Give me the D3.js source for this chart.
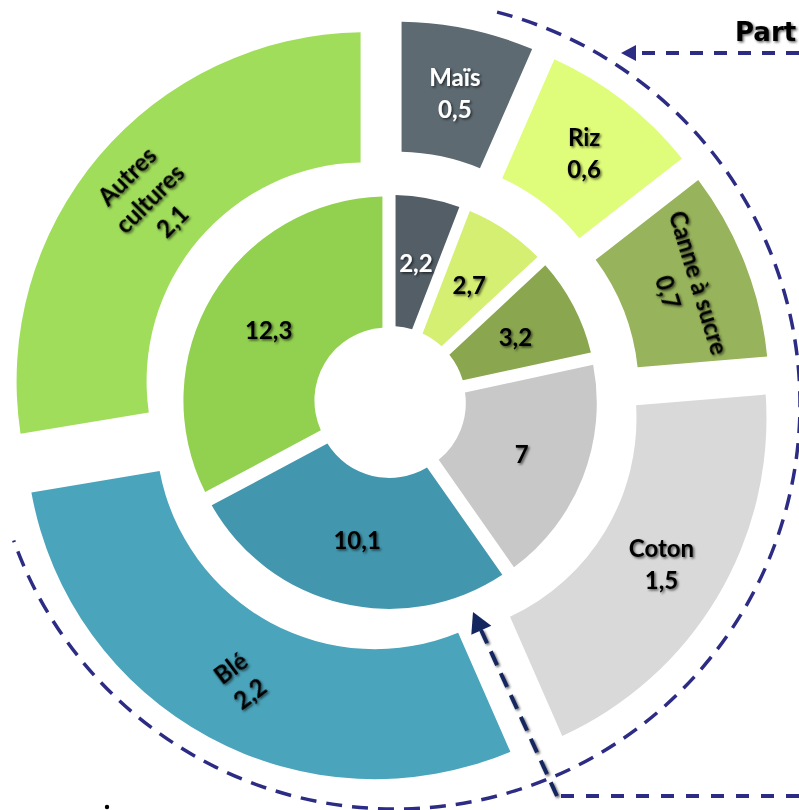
<!DOCTYPE html>
<html>
<head>
<meta charset="utf-8">
<script src="https://cdn.jsdelivr.net/npm/d3@7"></script>
<style>
  body { margin: 0; background: #fff; }
  svg { display: block; }
  .lbl { font-family: Lato, "Open Sans", sans-serif; font-weight: 700; font-size: 24px; }
  .title { font-family: "DejaVu Sans", Verdana, sans-serif; font-weight: 700; font-size: 26px; }
</style>
</head>
<body>
<div class="chart"></div>
<script>
var svgWidth = 799;
var svgHeight = 810;

// crops, clockwise from 12 o'clock
var crops = ["Maïs", "Riz", "Canne à sucre", "Coton", "Blé", "Autres cultures"];
// inner ring values
var innerValues = [2.2, 2.7, 3.2, 7, 10.1, 12.3];
// outer ring values
var outerValues = [0.5, 0.6, 0.7, 1.5, 2.2, 2.1];
// how the crop names break on the outer labels
var outerNameLines = [["Maïs"], ["Riz"], ["Canne à sucre"], ["Coton"], ["Blé"], ["Autres", "cultures"]];

// styles
var innerColors = ["#535e67", "#d4ef72", "#8aa74f", "#c8c8c8", "#4297ae", "#92d050"];
var outerColors = ["#5d6a71", "#e0fc7b", "#97b35b", "#d9d9d9", "#4aa4bc", "#a0dd5b"];
var textColors = ["#fff", "#000", "#000", "#000", "#000", "#000"];
var outerLabelRotate = [0, 0, 73, 0, -37, -45];
var navy = "#2d2c84";
var darkNavy = "#14265f";

var cx = 390, cy = 402;
var lineHeight = 32;

var fmt = function (v) { return String(v).replace(".", ","); };

var svg = d3.select(".chart")
  .append("svg")
  .attr("width", svgWidth)
  .attr("height", svgHeight);

var defs = svg.append("defs");
defs.append("filter")
  .attr("id", "shadow")
  .attr("x", "-30%").attr("y", "-30%").attr("width", "160%").attr("height", "160%")
  .append("feDropShadow")
  .attr("dx", 1.5).attr("dy", 1.5).attr("stdDeviation", 1.2)
  .attr("flood-color", "#000").attr("flood-opacity", 0.6);

var chartGroup = svg.append("g")
  .attr("transform", `translate(${cx}, ${cy})`);

var pie = d3.pie().sort(null).value(d => d);

// draw one ring; explode pushes every slice out along its bisector
function drawRing(values, r0, r1, explode, colors, cls) {
  var arc = d3.arc()
    .innerRadius(r0)
    .outerRadius(r1)
    .padRadius(100)
    .padAngle(0.1);

  var arcs = pie(values);
  arcs.forEach(function (d) {
    var mid = (d.startAngle + d.endAngle) / 2;
    d.dx = explode * Math.sin(mid);
    d.dy = -explode * Math.cos(mid);
    var c = arc.centroid(d);
    d.lx = c[0] + d.dx;
    d.ly = c[1] + d.dy;
  });

  chartGroup.append("g").attr("class", cls)
    .selectAll("path")
    .data(arcs)
    .enter()
    .append("path")
    .attr("d", arc)
    .attr("transform", d => `translate(${d.dx}, ${d.dy})`)
    .attr("fill", (d, i) => colors[i]);

  return arcs;
}

var innerArcs = drawRing(innerValues, 73, 204, 3, innerColors, "inner");
var outerArcs = drawRing(outerValues, 219, 349, 32, outerColors, "outer");

// labels
var labels = chartGroup.append("g").attr("filter", "url(#shadow)");

labels.selectAll("text.inner")
  .data(innerArcs)
  .enter()
  .append("text")
  .attr("class", "lbl inner")
  .attr("x", d => d.lx)
  .attr("y", d => d.ly)
  .attr("text-anchor", "middle")
  .attr("dominant-baseline", "central")
  .attr("fill", (d, i) => textColors[i])
  .text(d => fmt(d.data));

var outerLabel = labels.selectAll("g.outerLabel")
  .data(outerArcs)
  .enter()
  .append("g")
  .attr("class", "outerLabel")
  .attr("transform", (d, i) => `translate(${d.lx}, ${d.ly}) rotate(${outerLabelRotate[i]})`);

outerLabel.each(function (d, i) {
  var lines = outerNameLines[i].concat([fmt(d.data)]);
  var n = lines.length;
  d3.select(this).selectAll("text")
    .data(lines)
    .enter()
    .append("text")
    .attr("class", "lbl")
    .attr("x", 0)
    .attr("y", (t, j) => (j - (n - 1) / 2) * lineHeight)
    .attr("text-anchor", "middle")
    .attr("dominant-baseline", "central")
    .attr("fill", textColors[i])
    .text(t => t);
});

// dashed ring around the outer crops
var deg = Math.PI / 180;
var ring = { x: 395, y: 404, r: 405, from: 14.6, to: 250.3 };
var ringPath = d3.path();
ringPath.arc(ring.x, ring.y, ring.r, (ring.from - 90) * deg, (ring.to - 90) * deg, false);
svg.append("path")
  .attr("d", ringPath.toString())
  .attr("fill", "none")
  .attr("stroke", navy)
  .attr("stroke-width", 3.5)
  .attr("stroke-dasharray", "16 10");

// arrow heads
function arrowHead(tip, from, len, half, color) {
  var vx = from[0] - tip[0], vy = from[1] - tip[1];
  var l = Math.sqrt(vx * vx + vy * vy);
  vx /= l; vy /= l;
  var bx = tip[0] + vx * len, by = tip[1] + vy * len;
  var pts = [tip, [bx - vy * half, by + vx * half], [bx + vy * half, by - vx * half]];
  return svg.append("path")
    .attr("d", "M" + pts.join("L") + "Z")
    .attr("fill", color);
}

// top pointer
svg.append("line")
  .attr("x1", 799).attr("y1", 53).attr("x2", 634).attr("y2", 53)
  .attr("stroke", navy).attr("stroke-width", 4)
  .attr("stroke-dasharray", "13 11");
arrowHead([621, 53], [799, 53], 15, 8, navy);

// bottom pointer
svg.append("line")
  .attr("x1", 799).attr("y1", 796).attr("x2", 557).attr("y2", 796)
  .attr("stroke", navy).attr("stroke-width", 4)
  .attr("stroke-dasharray", "13 12");
var diag = svg.append("g").attr("filter", "url(#shadow)");
diag.append("line")
  .attr("x1", 557).attr("y1", 796).attr("x2", 481).attr("y2", 630)
  .attr("stroke", darkNavy).attr("stroke-width", 4)
  .attr("stroke-dasharray", "15 9");
arrowHead([473, 612], [557, 796], 20, 11, darkNavy);

svg.append("text")
  .attr("class", "title")
  .attr("x", 735)
  .attr("y", 41)
  .attr("filter", "url(#shadow)")
  .text("Part");

svg.append("circle")
  .attr("cx", 107).attr("cy", 807).attr("r", 2.2)
  .attr("fill", "#000");
</script>
</body>
</html>
